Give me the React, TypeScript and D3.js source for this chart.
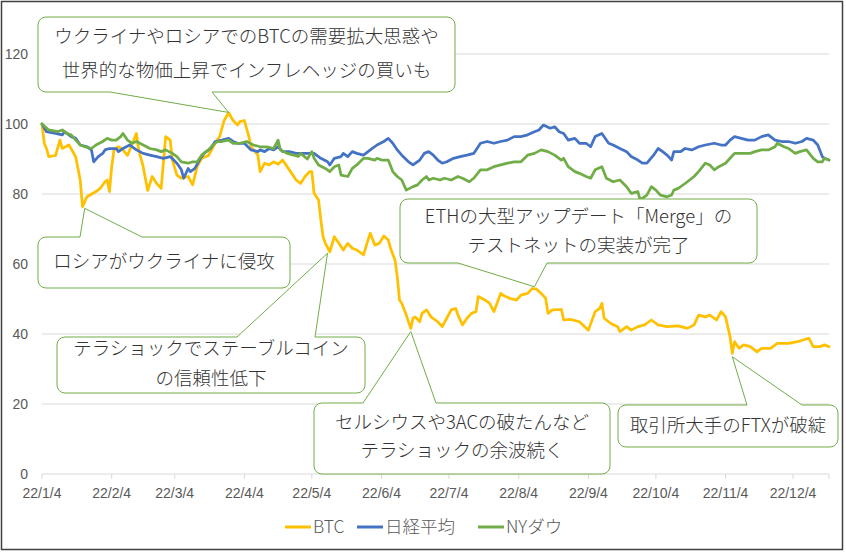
import React from "react";
import * as d3 from "d3";

// ---- data (index, 2022/1/4 = 100) ----
const btcDates = ["1/4","1/5","1/6","1/7","1/10","1/12","1/13","1/16","1/19","1/21","1/22","1/24","1/28","1/30","2/1","2/2","2/3","2/4","2/5","2/7","2/9","2/11","2/12","2/15","2/16","2/18","2/20","2/22","2/24","2/26","2/28","3/2","3/3","3/5","3/7","3/10","3/12","3/14","3/16","3/19","3/22","3/24","3/26","3/28","3/30","4/1","4/2","4/4","4/6","4/7","4/10","4/11","4/13","4/15","4/17","4/19","4/21","4/24","4/27","4/29","5/1","5/3","5/4","5/5","5/7","5/8","5/9","5/10","5/12","5/14","5/16","5/18","5/20","5/22","5/24","5/27","5/29","5/30","6/1","6/3","6/5","6/7","6/8","6/10","6/11","6/12","6/13","6/15","6/17","6/18","6/19","6/21","6/22","6/24","6/26","6/29","7/1","7/3","7/5","7/7","7/8","7/10","7/12","7/14","7/16","7/17","7/20","7/22","7/24","7/27","7/28","7/31","8/3","8/5","8/8","8/10","8/12","8/14","8/16","8/17","8/19","8/23","8/24","8/27","8/31","9/4","9/7","9/9","9/10","9/11","9/14","9/17","9/18","9/21","9/23","9/26","9/29","10/2","10/5","10/9","10/14","10/18","10/21","10/23","10/26","10/28","10/31","11/2","11/4","11/6","11/7","11/8","11/10","11/12","11/15","11/18","11/20","11/24","11/27","12/2","12/6","12/11","12/13","12/16","12/18","12/20"];
const btcValues = [100,94.5,93,90.7,91,95.4,93,94,90.6,84,76.4,79.2,80.7,81.7,83.5,84,80.7,87.8,92.6,93.5,92.6,91,92.6,97.3,92.6,87.8,81,85,83,81.6,96.4,95.4,89.7,85.4,84.5,85,82.6,87.8,90.2,91,94.5,96.4,101,103.2,101,99.7,100.7,101,96.4,93.5,91.1,86.4,88.8,88.3,89.2,88.5,89.7,86.9,84,83,85,86.4,86.4,80.2,78.3,72.6,67.8,65.9,63.5,67.8,65.9,64,65.9,64.5,64,62.6,66.9,68.8,65.4,65.9,68,66.9,64.5,61.1,56.4,49.7,48.8,45.4,41.6,44.5,44.9,43.5,45.9,46.9,44.9,43.5,42.1,44.5,46.9,47.3,45.4,42.6,44.5,45.9,46.4,50.7,49.7,48.8,46.4,51.6,51.1,50.2,49.7,51.1,51.6,53,52.8,51.6,50.2,45.9,46.9,47,44,44.2,43.5,41.1,46.4,47.3,48.8,44.5,43,42.1,40.7,42.1,41.1,42.1,42.6,44,42.6,42.1,42.3,41.6,42.6,45.4,44.9,45.4,44,46.4,44.9,39.2,34.5,37.8,35.9,36.9,36.4,34.9,35.9,35.9,37.3,37.3,37.8,38.8,36.4,36.4,36.9,36.4];

const nikkeiDates = ["1/4","1/6","1/10","1/13","1/14","1/17","1/19","1/21","1/24","1/26","1/27","1/29","1/31","2/1","2/3","2/6","2/7","2/9","2/12","2/15","2/18","2/21","2/24","2/27","3/2","3/5","3/7","3/8","3/10","3/11","3/13","3/15","3/17","3/20","3/22","3/25","3/28","3/30","4/1","4/4","4/7","4/10","4/11","4/13","4/15","4/17","4/19","4/21","4/24","4/27","5/2","5/5","5/8","5/11","5/12","5/14","5/17","5/18","5/20","5/22","5/24","5/27","5/30","6/2","6/5","6/7","6/9","6/11","6/13","6/16","6/18","6/21","6/23","6/25","6/27","6/29","7/1","7/3","7/6","7/9","7/12","7/15","7/18","7/21","7/24","7/27","7/30","8/2","8/5","8/8","8/11","8/13","8/15","8/18","8/20","8/22","8/24","8/26","8/29","8/31","9/3","9/5","9/7","9/10","9/13","9/15","9/18","9/21","9/23","9/26","9/28","9/30","10/3","10/5","10/7","10/9","10/11","10/12","10/15","10/17","10/20","10/23","10/26","10/30","11/2","11/4","11/6","11/8","11/11","11/14","11/17","11/20","11/23","11/26","11/29","12/2","12/5","12/8","12/10","12/13","12/15","12/17","12/18","12/20"];
const nikkeiValues = [100,97.8,97.3,96.9,97.8,96.4,95.9,94,93.5,92.6,89.2,90.7,91.6,92.6,93,93,92.1,93,94,92.6,91.6,91.1,90.7,90.2,90.7,88.8,86.9,84.5,87.3,86.4,87.3,89.7,91.6,93,95,95.4,95.9,95,94.5,94.5,92.6,92.1,92.6,92.1,93,92.6,93.5,92.1,92.1,91.6,91.6,91.6,90.2,89.2,88.3,90.2,90.7,91.6,90.7,92.1,91.6,91.1,92.6,94,95,95.9,94.5,92.6,91.1,89.2,88.3,89.7,91.6,92.1,91.1,89.7,88.8,89.2,90.2,90.7,91.1,91.6,94.5,95,94.5,95,95.4,96.4,96.4,96.9,97.8,98.3,99.7,98.8,99.2,97.8,97.3,95.4,95.9,94.5,94.5,93.5,96.4,97.3,94.5,94,93,92.1,90.7,89.7,88.8,88.8,91.1,93,92.1,91.1,89.7,92.1,92.1,93,92.6,93.5,94,94.5,94,94,95.4,96.4,95.9,95.4,95.4,96.4,96.9,95.4,95,95,94.5,95,95.9,95.4,94,90.7,90.2,89.7];

const dowDates = ["1/4","1/7","1/11","1/13","1/15","1/17","1/19","1/21","1/23","1/26","1/28","1/31","2/2","2/4","2/6","2/8","2/9","2/11","2/13","2/15","2/18","2/21","2/24","2/26","2/28","3/3","3/5","3/7","3/10","3/12","3/14","3/16","3/19","3/21","3/23","3/25","3/28","3/30","4/2","4/5","4/8","4/11","4/14","4/17","4/19","4/20","4/23","4/26","4/28","4/29","5/2","5/4","5/5","5/7","5/10","5/12","5/14","5/16","5/17","5/20","5/22","5/24","5/27","5/29","6/1","6/2","6/4","6/7","6/9","6/11","6/13","6/15","6/18","6/20","6/22","6/24","6/25","6/27","6/30","7/2","7/5","7/8","7/10","7/13","7/15","7/18","7/21","7/24","7/27","7/30","8/2","8/5","8/8","8/11","8/14","8/17","8/20","8/23","8/24","8/26","8/29","8/31","9/3","9/5","9/7","9/10","9/12","9/15","9/18","9/21","9/23","9/26","9/27","9/30","10/2","10/4","10/6","10/9","10/11","10/12","10/14","10/17","10/19","10/21","10/23","10/26","10/28","10/30","11/1","11/4","11/6","11/8","11/11","11/15","11/17","11/20","11/23","11/26","11/27","11/30","12/2","12/5","12/7","12/10","12/13","12/15","12/17","12/18","12/20"];
const dowValues = [100,98.3,97.8,98.3,97.3,96.9,95.4,94,93.5,93,94,95,95.9,95.4,95.4,96.4,97.3,95.4,94.5,95,94,93,92.6,92.1,92.6,91.6,90.7,89.2,88.8,89.2,89.2,91.1,92.6,94,95,95,95.4,94.5,94.5,95,94,93.5,93.5,93,95.4,92.6,91.6,91.1,90.7,91.6,90,92.1,90.2,88.3,87.3,86.4,87.8,88.3,85.4,85,87.3,88.3,90.2,90.2,89.7,90.2,89.7,89.7,86.4,85,84,81.1,82.1,82.6,84,85,84,84.5,84,84.5,84,85,84.5,83.5,84.5,86.9,86.9,87.8,88.3,88.8,89.2,89.2,91.1,91.6,92.6,92.1,91.1,89.7,90.2,87.8,86.4,85.9,85,84.5,86.9,87.8,84.5,83.5,84,82.1,80.2,80.7,78.3,79.7,82.1,81.1,79.7,79.2,79.7,81.1,81.6,83,84,85,86.4,88.8,88.3,86.9,87.8,88.8,90.2,91.6,91.6,91.6,92.1,92.6,92.6,93.5,94.5,93.5,93,91.6,92.1,92.6,90.2,89.2,89.2,90.2,89.7];

const seriesNames = ["BTC", "日経平均", "NYダウ"];
const seriesColors = ["#FFC000", "#4472C4", "#70AD47"];
const yTicks = [0, 20, 40, 60, 80, 100, 120];
const axisStart = "1/4";
const axisEnd = "12/20";

// annotations: text lines, pointed date & value
const noteTexts = [
  ["ウクライナやロシアでのBTCの需要拡大思惑や", "世界的な物価上昇でインフレヘッジの買いも"],
  ["ロシアがウクライナに侵攻"],
  ["テラショックでステーブルコイン", "の信頼性低下"],
  ["ETHの大型アップデート「Merge」の", "テストネットの実装が完了"],
  ["セルシウスや3ACの破たんなど", "テラショックの余波続く"],
  ["取引所大手のFTXが破綻"],
];
const noteDates = ["3/28", "1/23", "5/11", "8/11", "6/17", "11/7"];
const noteValues = [103.3, 75.9, 63.1, 53.5, 40.7, 33.5];

// layout of callout boxes (pixels)
const noteBoxes = [
  { x0: 38, y0: 17, x1: 455, y1: 92, side: "bottom", b1: 110, b2: 212, lines: [37, 71] },
  { x0: 38, y0: 237, x1: 290, y1: 288, side: "top", b1: 80, b2: 142, lines: [262] },
  { x0: 57, y0: 337, x1: 365, y1: 393, side: "top", b1: 237, b2: 315, lines: [349, 379] },
  { x0: 400, y0: 199, x1: 757, y1: 263, side: "bottom", b1: 458, b2: 547, lines: [217, 246] },
  { x0: 314, y0: 403, x1: 610, y1: 474, side: "top", b1: 363, b2: 436, lines: [423, 451] },
  { x0: 618, y0: 405, x1: 838, y1: 447, side: "top", b1: 747, b2: 802, lines: [426] },
];

const parse = (s: string) => d3.utcParse("%Y/%m/%d")("2022/" + s) as Date;

function calloutPath(b: any, tx: number, ty: number) {
  const r = 8;
  const { x0, y0, x1, y1, b1, b2 } = b;
  const arc = (x: number, y: number) => `A${r},${r} 0 0 1 ${x},${y}`;
  if (b.side === "top") {
    return `M${x0 + r},${y0} L${b1},${y0} L${tx},${ty} L${b2},${y0} L${x1 - r},${y0} ${arc(x1, y0 + r)} L${x1},${y1 - r} ${arc(x1 - r, y1)} L${x0 + r},${y1} ${arc(x0, y1 - r)} L${x0},${y0 + r} ${arc(x0 + r, y0)} Z`;
  }
  return `M${x0 + r},${y0} L${x1 - r},${y0} ${arc(x1, y0 + r)} L${x1},${y1 - r} ${arc(x1 - r, y1)} L${b2},${y1} L${tx},${ty} L${b1},${y1} L${x0 + r},${y1} ${arc(x0, y1 - r)} L${x0},${y0 + r} ${arc(x0 + r, y0)} Z`;
}

export default function App() {
  const W = 846, H = 552;
  const x = d3.scaleUtc().domain([parse(axisStart), parse(axisEnd)]).range([42, 829]);
  const y = d3.scaleLinear().domain([0, 120]).range([474, 54]);
  const start = parse(axisStart);
  const xTicks = d3.range(12).map((i) => d3.utcMonth.offset(start, i));
  const fmt = d3.utcFormat("%y/%-m/%-d");

  const series = [
    { dates: btcDates, values: btcValues },
    { dates: nikkeiDates, values: nikkeiValues },
    { dates: dowDates, values: dowValues },
  ];
  const line = d3
    .line<[Date, number]>()
    .x((d) => x(d[0]))
    .y((d) => y(d[1]));

  const axisFont = "'Liberation Sans', Arial, sans-serif";
  const jpFont = "'Noto Sans CJK JP', 'Noto Sans', sans-serif";
  const legendX = [285, 357, 478];

  return (
    <svg width={W} height={H} style={{ position: "absolute", left: 0, top: 0, background: "#fff" }}>
      <rect x={0} y={0} width={W} height={H} fill="#fff" />
      <rect x={1.5} y={1.5} width={841} height={548} fill="none" stroke="#404040" strokeWidth={1.5} />
      {/* gridlines */}
      {yTicks.map((t) => (
        <line key={t} x1={42} x2={829} y1={y(t)} y2={y(t)} stroke="#D9D9D9" strokeWidth={1} />
      ))}
      {/* x tick marks */}
      {[...xTicks, parse(axisEnd)].map((d, i) => (
        <line key={i} x1={x(d)} x2={x(d)} y1={474} y2={479} stroke="#D9D9D9" strokeWidth={1} />
      ))}
      {/* y labels */}
      {yTicks.map((t) => (
        <text key={t} x={28} y={y(t)} dy="0.35em" textAnchor="end" fontFamily={axisFont} fontSize={14} fill="#595959">
          {t}
        </text>
      ))}
      {/* x labels */}
      {xTicks.map((d, i) => (
        <text key={i} x={x(d)} y={493} dy="0.35em" textAnchor="middle" fontFamily={axisFont} fontSize={14} fill="#595959">
          {fmt(d)}
        </text>
      ))}
      {/* series */}
      {series.map((s, i) => (
        <path
          key={i}
          d={line(s.dates.map((dd, k) => [parse(dd), s.values[k]] as [Date, number])) || ""}
          fill="none"
          stroke={seriesColors[i]}
          strokeWidth={2.75}
          strokeLinejoin="round"
          strokeLinecap="round"
        />
      ))}
      {/* callouts */}
      {noteTexts.map((lines, i) => {
        const b = noteBoxes[i];
        const tx = x(parse(noteDates[i]));
        const ty = y(noteValues[i]);
        const cx = (b.x0 + b.x1) / 2;
        return (
          <g key={i}>
            <path d={calloutPath(b, tx, ty)} fill="#fff" stroke="#70AD47" strokeWidth={1} />
            {lines.map((t, k) => (
              <text key={k} x={cx} y={b.lines[k]} dy="0.35em" textAnchor="middle" fontFamily={jpFont} fontWeight={300} fontSize={18.5} fill="#333333">
                {t}
              </text>
            ))}
          </g>
        );
      })}
      {/* legend */}
      {seriesNames.map((n, i) => (
        <g key={n}>
          <line x1={legendX[i]} x2={legendX[i] + 26} y1={527} y2={527} stroke={seriesColors[i]} strokeWidth={3} />
          <text x={legendX[i] + 28} y={527} dy="0.35em" fontFamily={"'Liberation Sans Narrow', 'Noto Sans CJK JP', sans-serif"} fontWeight={300} fontSize={17.5} fill="#595959">
            {n}
          </text>
        </g>
      ))}
    </svg>
  );
}
